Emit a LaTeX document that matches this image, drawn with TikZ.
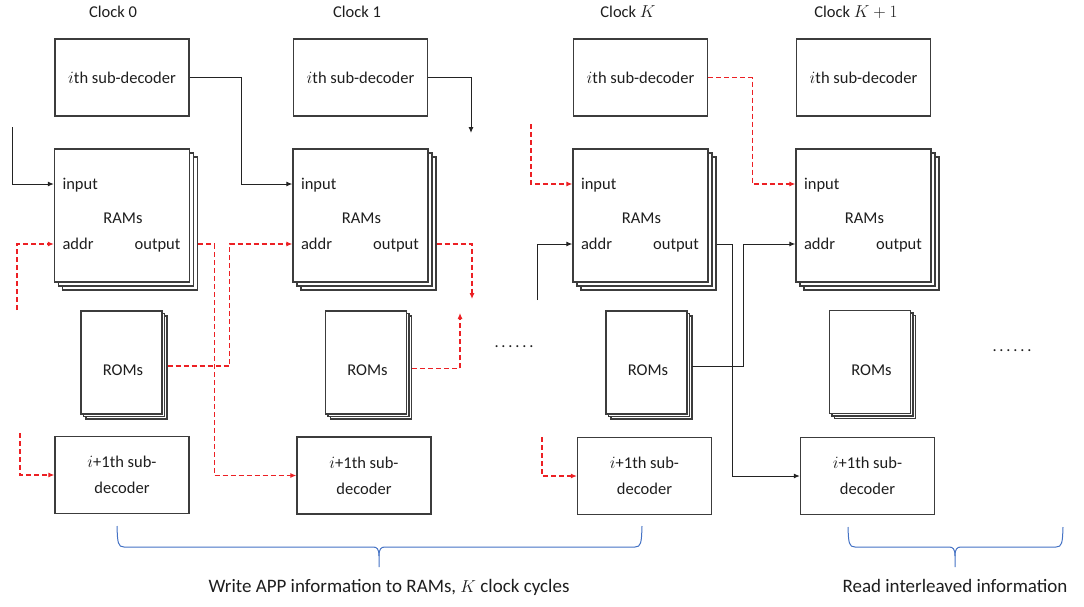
\documentclass[tikz,border=0pt]{standalone}
\usepackage{fontspec}
\setmainfont{Carlito}
\usetikzlibrary{arrows.meta,shadows,calc}
\definecolor{linec}{RGB}{35,35,35}
\definecolor{boxc}{RGB}{60,60,60}
\definecolor{redc}{RGB}{236,32,36}
\definecolor{bracec}{RGB}{68,114,196}
\definecolor{txtc}{RGB}{30,30,30}
\newcommand\sixdots{.\kern2.8pt.\kern2.8pt.\kern2.8pt.\kern2.8pt.\kern2.8pt.}
\begin{document}
\begin{tikzpicture}[x=1pt,y=-1pt,
  font=\fontsize{16.5}{20}\selectfont, text=txtc,
  box/.style={draw=boxc, line width=1.3pt, fill=white, inner sep=0pt,
    minimum width=134pt, minimum height=77pt, align=center,
    font=\fontsize{16.5}{26}\selectfont},
  ram/.style={box, minimum width=135pt, minimum height=133pt,
    copy shadow={shadow xshift=8pt, shadow yshift=-8pt, draw=boxc, fill=white, line width=1.3pt},
    copy shadow={shadow xshift=4pt, shadow yshift=-4pt, draw=boxc, fill=white, line width=1.3pt}},
  rom/.style={box, minimum width=81pt, minimum height=103pt,
    copy shadow={shadow xshift=5pt, shadow yshift=-5pt, draw=boxc, fill=white, line width=1.3pt},
    copy shadow={shadow xshift=2.5pt, shadow yshift=-2.5pt, draw=boxc, fill=white, line width=1.3pt}},
  lbl/.style={inner sep=0pt, text height=11pt, text depth=0pt},
  wire/.style={draw=linec, line width=1pt, -{Latex[length=6pt,width=5pt]}},
  rwire/.style={wire, draw=redc, line width=1.1pt, dash pattern=on 5pt off 3pt},
  brc/.style={draw=bracec, line width=1pt},
  note/.style={font=\fontsize{19}{23}\selectfont},
]
\useasboundingbox (0,0) rectangle (1084,606);

% clock headings
\node (ckA) at (113,12) {Clock 0};
\node (ckB) at (357,12) {Clock 1};
\node (ckK) at (628,12) {Clock $K$};
\node (ckL) at (856,12) {Clock $K+1$};

% column 0
\node[box] (sdA) at (122,77.5) {$i$th sub-decoder};
\node[ram] (ramA) at (122,215.5) {};
\node[rom] (romA) at (121.5,362.5) {};
\node[box] (nxA) at (122,475) {$i$+1th sub-\\decoder};
% column 1
\node[box] (sdB) at (360.5,77.5) {$i$th sub-decoder};
\node[ram] (ramB) at (360.5,215.5) {};
\node[rom] (romB) at (366,362.5) {};
\node[box] (nxB) at (364,475.5) {$i$+1th sub-\\decoder};
% column K
\node[box] (sdK) at (640.5,77.5) {$i$th sub-decoder};
\node[ram] (ramK) at (640.5,215.5) {};
\node[rom] (romK) at (646.5,362.5) {};
\node[box] (nxK) at (644.5,476) {$i$+1th sub-\\decoder};
% column K+1
\node[box] (sdL) at (863.5,77.5) {$i$th sub-decoder};
\node[ram] (ramL) at (863.5,215.5) {};
\node[rom] (romL) at (870,362) {};
\node[box] (nxL) at (867.5,476) {$i$+1th sub-\\decoder};

% labels inside the RAM and ROM stacks
\foreach \c in {A,B,K,L}{
  \node[lbl, anchor=west] (in\c) at ($(ram\c.west)+(8.5,-31.5)$) {input};
  \node[lbl] (nm\c) at ($(ram\c.center)+(1,2.5)$) {RAMs};
  \node[lbl, anchor=west] (ad\c) at ($(ram\c.west)+(8.5,28.5)$) {addr};
  \node[lbl, anchor=east] (out\c) at ($(ram\c.east)+(-9.5,28.5)$) {output};
  \node[lbl] (rl\c) at ($(rom\c.center)+(1.5,7.5)$) {ROMs};
}

\node (dotsA) at (514,347) {\sixdots};
\node (dotsB) at (1012,351) {\sixdots};

% clock 0 connections
\coordinate (sA) at (12,127);
\draw[wire] (sA) |- (ramA.west |- inA);
\draw[wire] (sdA.east) -- ++(52,0) |- (ramB.west |- inB);
\coordinate (sB) at (17,310);
\draw[rwire] (sB) |- (ramA.west |- adA);
\draw[rwire] ($(ramA.east |- outA)+(8,0)$) -- ++(16,0) |- (nxB.west);
\draw[rwire] ($(romA.east)+(5,3.5)$) -- ++(62,0) |- (ramB.west |- adB);
\coordinate (sC) at (20,433);
\draw[rwire] (sC) |- (nxA.west);

% clock 1 connections
\coordinate (tB) at (471,133);
\draw[wire] (sdB.east) -| (tB);
\coordinate (tC) at (472,299);
\draw[rwire] ($(ramB.east |- outB)+(8,0)$) -| (tC);
\coordinate (tD) at (460,313);
\draw[rwire] ($(romB.east)+(5,6)$) -| (tD);

% clock K connections
\coordinate (sD) at (531,124);
\draw[rwire] (sD) |- (ramK.west |- inK);
\coordinate (sE) at (537,300);
\draw[wire] (sE) |- (ramK.west |- adK);
\coordinate (sF) at (542,437);
\draw[rwire] (sF) |- (nxK.west);
\draw[rwire] (sdK.east) -- ++(44,0) |- (ramL.west |- inL);
\draw[wire] ($(ramK.east |- outK)+(8,0)$) -- ++(16,0) |- (nxL.west);
\draw[wire] ($(romK.east)+(4,3.5)$) -- ++(52,0) |- (ramL.west |- adL);

% braces
\draw[brc] (117,526) .. controls (117.5,543) and (118,547) .. (124,547) -- (373,547)
  .. controls (377,547) and (379,549) .. (379,556) -- (379,567);
\draw[brc] (642,526) .. controls (641.5,543) and (641,547) .. (635,547) -- (385,547)
  .. controls (381,547) and (379,549) .. (379,556);
\draw[brc] (848,527) .. controls (848.5,543) and (849,547) .. (855,547) -- (949,547)
  .. controls (953,547) and (955,549) .. (955,556) -- (955,567);
\draw[brc] (1063,527) .. controls (1062.5,543) and (1062,547) .. (1056,547) -- (961,547)
  .. controls (957,547) and (955,549) .. (955,556);

\node[note] (wrL) at (389,587) {Write APP information to RAMs, $K$ clock cycles};
\node[note] (rdL) at (955,586) {Read interleaved information};
\end{tikzpicture}
\end{document}
